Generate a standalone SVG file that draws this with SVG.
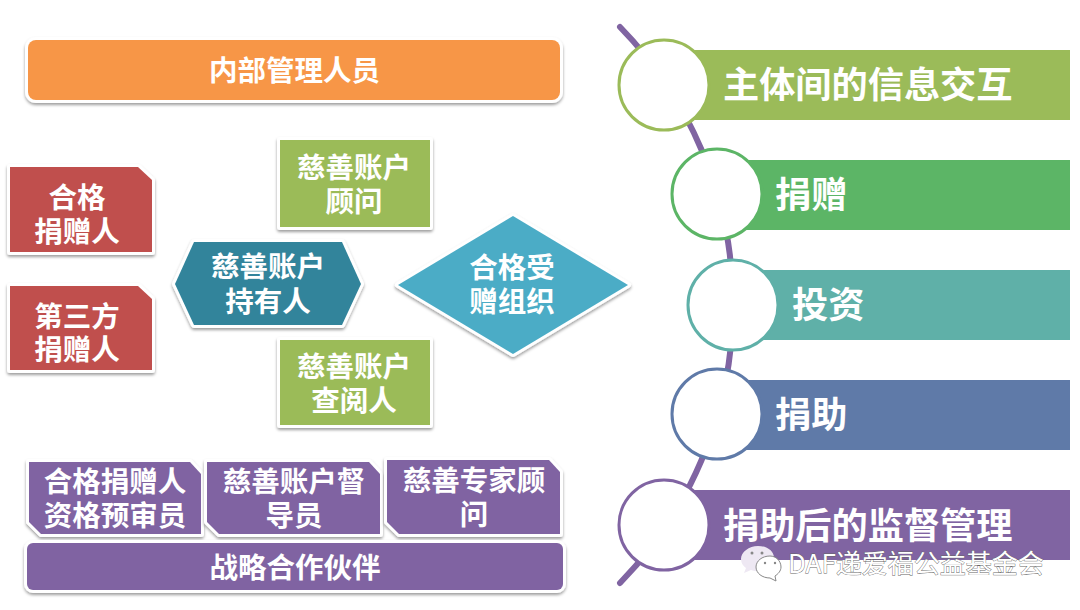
<svg xmlns="http://www.w3.org/2000/svg" width="1080" height="610" viewBox="0 0 1080 610">
<defs>
<filter id="sh" x="-15%" y="-15%" width="130%" height="135%"><feDropShadow dx="0" dy="2" stdDeviation="1.6" flood-color="#000" flood-opacity="0.38"/></filter>
</defs>
<style>
text{font-family:"Noto Sans CJK SC","Noto Sans",sans-serif;font-weight:700;fill:#fff;text-anchor:middle}
.s{stroke:#fff;stroke-width:6;stroke-linejoin:round;paint-order:stroke;filter:url(#sh)}
.t28{font-size:28.5px}
.t36{font-size:36.2px;text-anchor:start}
.ring{fill:#fff;stroke-width:3}
.mark{font-size:26px;font-weight:400;text-anchor:start;fill:#fff;stroke:#666;stroke-width:.8;paint-order:stroke}
.eye{fill:#888}
</style>
<rect width="1080" height="610" fill="#fff"/>
<g id="connectors"><path d="M620 27A398.5 398.5 0 0 1 620 583" fill="none" stroke="#8064A2" stroke-width="6" stroke-linecap="round"/></g>
<g id="internal"><rect class="s" x="28" y="40" width="532" height="60" rx="8" fill="#F79646"/><text class="t28" x="294.5" y="81">内部管理人员</text></g>
<g id="donor1"><path class="s" d="M10 167H138L152 180V252H10Z" fill="#C0504D"/><text class="t28" x="77" y="208">合格</text><text class="t28" x="77" y="242">捐赠人</text></g>
<g id="donor2"><path class="s" d="M10 286H138L152 299V370H10Z" fill="#C0504D"/><text class="t28" x="77" y="327">第三方</text><text class="t28" x="77" y="360">捐赠人</text></g>
<g id="advisor"><rect class="s" x="280" y="140" width="150" height="87" fill="#9BBB59"/><text class="t28" x="354" y="178">慈善账户</text><text class="t28" x="354" y="212">顾问</text></g>
<g id="holder"><path class="s" d="M175 284L194 242H342L361 284L342 325H194Z" fill="#31849B"/><text class="t28" x="268" y="277">慈善账户</text><text class="t28" x="268" y="312">持有人</text></g>
<g id="viewer"><rect class="s" x="280" y="340" width="150" height="85" fill="#9BBB59"/><text class="t28" x="354" y="377">慈善账户</text><text class="t28" x="354" y="411">查阅人</text></g>
<g id="org"><path class="s" d="M398 285L513 216L628 285L513 354Z" fill="#4BACC6"/><text class="t28" x="512" y="278">合格受</text><text class="t28" x="512" y="312">赠组织</text></g>
<g id="reviewer"><path class="s" d="M29 462H190L201 474V534H41L29 522Z" fill="#8064A2"/><text class="t28" x="115" y="492">合格捐赠人</text><text class="t28" x="115" y="526">资格预审员</text></g>
<g id="supervisor"><path class="s" d="M207 462H369L380 474V534H219L207 522Z" fill="#8064A2"/><text class="t28" x="294" y="492">慈善账户督</text><text class="t28" x="294" y="526">导员</text></g>
<g id="expert"><path class="s" d="M387 460H549L560 472V534H399L387 522Z" fill="#8064A2"/><text class="t28" x="474" y="491">慈善专家顾</text><text class="t28" x="474" y="525">问</text></g>
<g id="partner"><rect class="s" x="27" y="543" width="536" height="47" rx="6" fill="#8064A2"/><text class="t28" x="295" y="578">战略合作伙伴</text></g>
<g id="step1"><rect x="680" y="50" width="390" height="70" fill="#9BBB59"/><circle class="ring" cx="664" cy="85" r="45" stroke="#9BBB59"/><text class="t36" x="723" y="98">主体间的信息交互</text></g>
<g id="step2"><rect x="730" y="160" width="340" height="70" fill="#5CB566"/><circle class="ring" cx="717" cy="194" r="45" stroke="#5CB566"/><text class="t36" x="775" y="208">捐赠</text></g>
<g id="step3"><rect x="750" y="270" width="320" height="70" fill="#5FB0A8"/><circle class="ring" cx="733" cy="305" r="45" stroke="#5FB0A8"/><text class="t36" x="792" y="318">投资</text></g>
<g id="step4"><rect x="730" y="380" width="340" height="70" fill="#5F7AA8"/><circle class="ring" cx="717" cy="414" r="45" stroke="#5F7AA8"/><text class="t36" x="775" y="428">捐助</text></g>
<g id="step5"><rect x="680" y="490" width="390" height="70" fill="#8064A2"/><circle class="ring" cx="664" cy="525" r="45" stroke="#8064A2"/><text class="t36" x="723" y="539">捐助后的监督管理</text></g>
<g id="watermark"><path d="M758 546c-9 0-17 6-17 13 0 4 2 7 5 9l-2 5 7-3c2 1 5 1 7 1 9 0 16-6 16-13s-7-12-16-12z" fill="#eee8f3"/><circle class="eye" cx="752" cy="553" r="1.5"/><circle class="eye" cx="762" cy="553" r="1.5"/><path d="M770 556c-8 0-14 5-14 11s6 11 14 11l6 3-1-5c3-2 6-5 6-9 0-6-5-11-11-11z" fill="#fff" stroke="#888" stroke-width="1"/><circle class="eye" cx="765" cy="563" r="1.2"/><circle class="eye" cx="775" cy="563" r="1.2"/><text class="mark" x="788" y="573">DAF递爱福公益基金会</text></g>
</svg>
